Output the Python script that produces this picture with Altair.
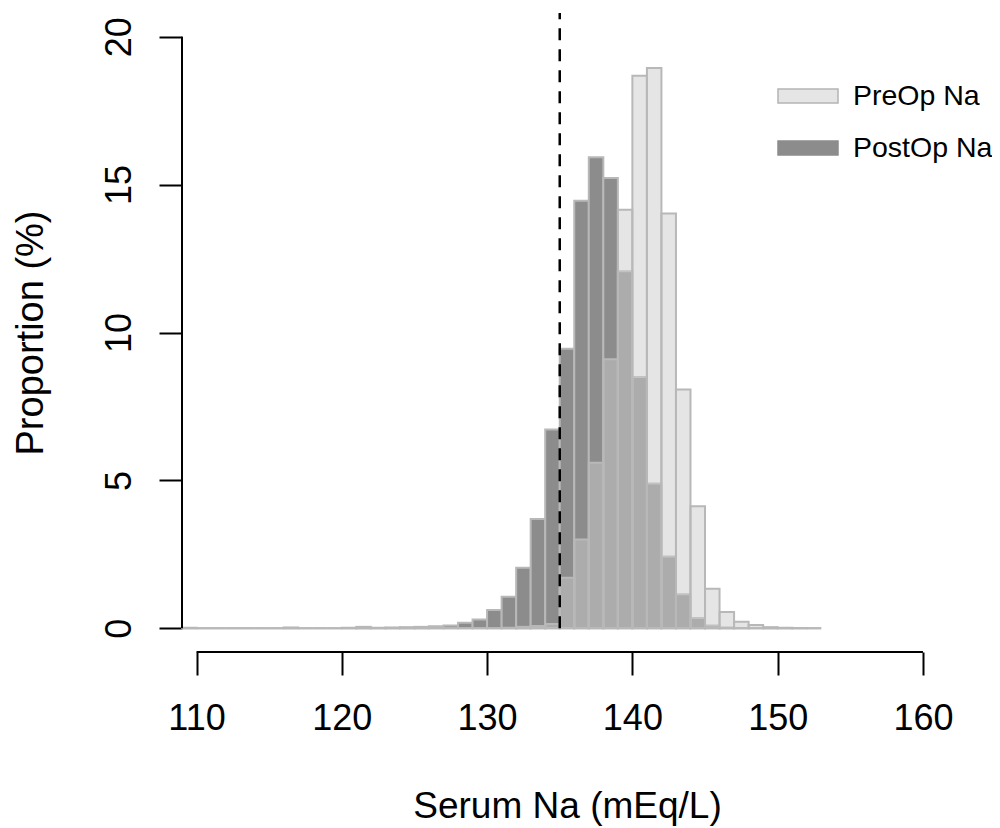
import altair as alt
import pandas as pd

# ---- data (percent per 1 mEq/L bin) ----
bin_start = list(range(109, 153))
postop = [0.02, 0.0, 0.0, 0.0, 0.0, 0.0, 0.0, 0.03, 0.0, 0.0,
          0.0, 0.02, 0.05, 0.02, 0.03, 0.04, 0.05, 0.07, 0.10, 0.19,
          0.30, 0.62, 1.07, 2.05, 3.70, 6.72, 9.45, 14.45, 15.92, 15.22,
          12.07, 8.50, 4.90, 2.43, 1.15, 0.35, 0.10, 0.03, 0.01, 0.0,
          0.0, 0.0, 0.0, 0.0]
preop = [0.0, 0.0, 0.0, 0.0, 0.0, 0.0, 0.0, 0.0, 0.0, 0.0,
         0.0, 0.0, 0.0, 0.0, 0.0, 0.0, 0.0, 0.0, 0.0, 0.0,
         0.0, 0.0, 0.02, 0.05, 0.08, 0.15, 1.71, 3.00, 5.60, 9.10,
         14.15, 18.68, 18.94, 14.02, 8.07, 4.13, 1.34, 0.55, 0.22, 0.11,
         0.04, 0.02, 0.01, 0.0]
series_names = ["PreOp Na", "PostOp Na"]
x_ticks = [110, 120, 130, 140, 150, 160]
y_ticks = [0, 5, 10, 15, 20]
cutoff = 135

rows = []
for b, v in zip(bin_start, postop):
    rows.append({"lo": b, "hi": b + 1, "pct": v, "series": "PostOp Na"})
for b, v in zip(bin_start, preop):
    rows.append({"lo": b, "hi": b + 1, "pct": v, "series": "PreOp Na"})
df = pd.DataFrame(rows)

X_DOM = [109, 162]
Y_DOM = [-0.8, 20.8]
xs = alt.Scale(domain=X_DOM, nice=False, zero=False)
ys = alt.Scale(domain=Y_DOM, nice=False, zero=False)
FONT = "Liberation Sans"

x_axis = alt.Axis(values=x_ticks, domain=False, grid=False, tickSize=23, tickWidth=2,
                  tickColor="black", labelFontSize=36, labelFont=FONT, labelColor="black",
                  labelPadding=26, labelFlush=False, title="Serum Na (mEq/L)",
                  titleFontSize=37, titleFont=FONT, titleFontWeight="normal",
                  titleColor="black", titleY=165, titleBaseline="alphabetic")
y_axis = alt.Axis(values=y_ticks, domain=False, grid=False, tickSize=23, tickWidth=2,
                  tickColor="black", labelFontSize=36, labelFont=FONT, labelColor="black",
                  labelAngle=270, labelAlign="center", labelBaseline="alphabetic",
                  labelPadding=29, labelFlush=False, title="Proportion (%)",
                  titleFontSize=38, titleFont=FONT, titleFontWeight="normal",
                  titleColor="black", titleAngle=270, titleAlign="center",
                  titleBaseline="alphabetic", titleX=-140, titleY=319.5)

legend = alt.Legend(
    title=None, orient="none", legendX=605, legendY=62, padding=0,
    symbolType="M-1.5,-0.35L1.5,-0.35L1.5,0.35L-1.5,0.35Z", symbolSize=1600,
    symbolStrokeWidth=1.5, symbolOpacity=1, labelFontSize=28.5, labelFont=FONT,
    labelColor="black", labelOffset=24, rowPadding=16,
)

bars = alt.Chart(df).mark_bar(stroke="#b8b8b8", strokeWidth=2, strokeOpacity=1).encode(
    x=alt.X("lo:Q", scale=xs, axis=x_axis),
    x2="hi:Q",
    y=alt.Y("pct:Q", scale=ys, axis=y_axis, stack=None),
    y2=alt.datum(0),
    fill=alt.Fill("series:N", scale=alt.Scale(domain=series_names, range=["#cccccc", "#8c8c8c"]),
                  legend=None),
    fillOpacity=alt.condition(alt.datum.series == "PreOp Na", alt.value(0.5), alt.value(1)),
)

leg = alt.Chart(pd.DataFrame({"series": series_names})).mark_point(
    filled=True, size=0, strokeWidth=0, shape="square").encode(
    x=alt.X("xv:Q", scale=xs, axis=x_axis),
    y=alt.Y("yv:Q", scale=ys, axis=y_axis),
    fill=alt.Fill("series:N", scale=alt.Scale(domain=series_names, range=["#e5e5e5", "#8c8c8c"]),
                  legend=legend),
    stroke=alt.Stroke("series:N", scale=alt.Scale(domain=series_names, range=["#b4b4b4", "#8c8c8c"]),
                      legend=legend),
).transform_calculate(xv=str(cutoff), yv="0")

cut = alt.Chart(pd.DataFrame({"x": [cutoff], "y": [0], "y2": [Y_DOM[1]]})).mark_rule(
    color="black", strokeWidth=2.5, strokeDash=[12, 9]).encode(
    x=alt.X("x:Q", scale=xs, axis=x_axis),
    y=alt.Y("y:Q", scale=ys, axis=y_axis),
    y2="y2:Q",
)

yline = alt.Chart(pd.DataFrame({"x": [X_DOM[0]], "y": [y_ticks[0]], "y2": [y_ticks[-1]]})).mark_rule(
    color="black", strokeWidth=2).encode(
    x=alt.X("x:Q", scale=xs, axis=x_axis),
    y=alt.Y("y:Q", scale=ys, axis=y_axis),
    y2="y2:Q",
)
xline = alt.Chart(pd.DataFrame({"x": [x_ticks[0]], "x2": [x_ticks[-1]], "y": [Y_DOM[0]]})).mark_rule(
    color="black", strokeWidth=2).encode(
    x=alt.X("x:Q", scale=xs, axis=x_axis),
    x2="x2:Q",
    y=alt.Y("y:Q", scale=ys, axis=y_axis),
)

chart = alt.layer(bars, leg, cut, yline, xline).resolve_scale(
    fill="independent", stroke="independent"
).properties(
    width=770, height=639,
    padding={"left": 174, "top": 5, "right": 40, "bottom": 175},
    autosize=alt.AutoSizeParams(type="none"),
    background="white",
).configure_view(stroke=None)

chart.save("out.html", embed_options={"renderer": "svg", "actions": False})
